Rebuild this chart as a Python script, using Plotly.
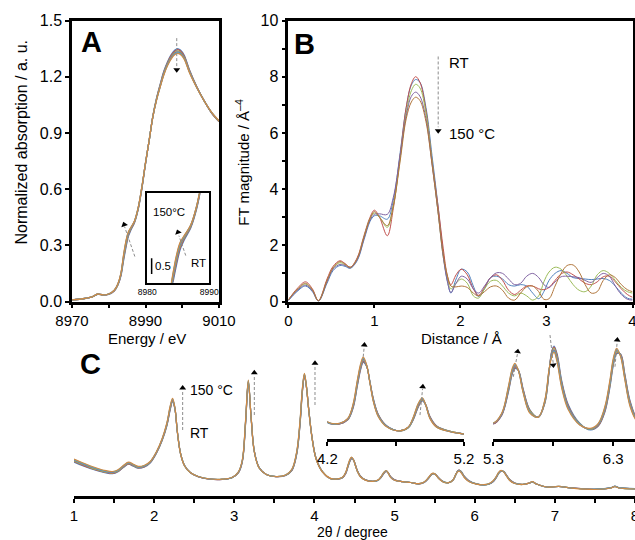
import plotly.graph_objects as go

# ---------------- panel A: Cu K-edge XANES, RT ... 150 C ----------------
energy = [8970, 8972, 8974, 8975.5, 8977, 8978.5, 8980, 8981.5, 8982.5, 8983.3,
          8984, 8984.7, 8985.3, 8986, 8987, 8988, 8989, 8990, 8991, 8992,
          8993, 8994, 8995, 8996, 8997, 8998, 8998.7, 8999.5, 9000.5, 9002,
          9004, 9006, 9008, 9010]
xanes_1 = [0.009, 0.012, 0.018, 0.025, 0.038, 0.034, 0.038, 0.056, 0.088, 0.135,
           0.215, 0.29, 0.345, 0.38, 0.42, 0.49, 0.60, 0.735, 0.86, 0.99,
           1.085, 1.16, 1.23, 1.28, 1.318, 1.342, 1.35, 1.342, 1.315, 1.235,
           1.145, 1.07, 1.005, 0.96]
xanes_2 = [0.009, 0.012, 0.018, 0.025, 0.039, 0.034, 0.039, 0.057, 0.090, 0.14,
           0.225, 0.30, 0.352, 0.385, 0.423, 0.493, 0.603, 0.737, 0.86, 0.988,
           1.082, 1.156, 1.225, 1.275, 1.312, 1.336, 1.344, 1.337, 1.31, 1.232,
           1.144, 1.07, 1.006, 0.961]
xanes_3 = [0.009, 0.012, 0.018, 0.025, 0.039, 0.035, 0.039, 0.058, 0.091, 0.143,
           0.23, 0.308, 0.358, 0.388, 0.426, 0.496, 0.606, 0.738, 0.86, 0.987,
           1.08, 1.152, 1.22, 1.27, 1.306, 1.33, 1.338, 1.331, 1.305, 1.228,
           1.142, 1.07, 1.007, 0.962]
xanes_4 = [0.009, 0.012, 0.018, 0.025, 0.040, 0.035, 0.040, 0.059, 0.093, 0.146,
           0.236, 0.315, 0.363, 0.391, 0.428, 0.498, 0.608, 0.739, 0.86, 0.986,
           1.078, 1.149, 1.216, 1.266, 1.302, 1.326, 1.333, 1.326, 1.301, 1.225,
           1.141, 1.07, 1.008, 0.963]
xanes_5 = [0.009, 0.012, 0.018, 0.025, 0.040, 0.035, 0.040, 0.060, 0.094, 0.148,
           0.24, 0.32, 0.367, 0.393, 0.429, 0.499, 0.609, 0.74, 0.86, 0.985,
           1.076, 1.147, 1.213, 1.263, 1.298, 1.322, 1.329, 1.322, 1.298, 1.222,
           1.14, 1.07, 1.009, 0.964]
xanes_6 = [0.009, 0.012, 0.018, 0.025, 0.040, 0.035, 0.040, 0.060, 0.095, 0.15,
           0.245, 0.325, 0.37, 0.395, 0.43, 0.50, 0.61, 0.74, 0.86, 0.985,
           1.075, 1.145, 1.21, 1.26, 1.295, 1.318, 1.325, 1.318, 1.295, 1.22,
           1.14, 1.07, 1.01, 0.965]

# ---------------- panel B: EXAFS Fourier transforms ----------------
distance = [0, 0.1, 0.2, 0.28, 0.35, 0.45, 0.52, 0.6, 0.66, 0.72,
            0.8, 0.88, 0.95, 1.0, 1.06, 1.15, 1.22, 1.3, 1.37, 1.43,
            1.48, 1.53, 1.6, 1.67, 1.74, 1.8, 1.85, 1.89, 1.95, 2.01,
            2.08, 2.15, 2.21, 2.28, 2.35, 2.42, 2.49, 2.56, 2.63, 2.7,
            2.77, 2.84, 2.91, 2.97, 3.03, 3.1, 3.17, 3.24, 3.31, 3.38,
            3.45, 3.52, 3.59, 3.66, 3.73, 3.8, 3.87, 3.94, 4.0]
ft_blue = [0.03, 0.35, 0.55, 0.35, 0.02, 0.65, 1.10, 1.28, 1.25, 1.18,
           1.45, 2.20, 2.85, 3.05, 3.05, 2.93, 3.60, 5.30, 6.90, 7.70,
           7.90, 7.80, 6.90, 5.20, 3.40, 1.70, 0.70, 0.30, 0.80, 1.15,
           1.05, 0.55, 0.18, 0.45, 0.85, 0.90, 0.80, 0.60, 0.55, 0.60,
           0.55, 0.30, 0.10, 0.35, 0.75, 1.00, 1.10, 1.00, 0.85, 0.82,
           0.80, 0.78, 0.80, 0.82, 0.75, 0.55, 0.30, 0.12, 0.08]
ft_red = [0.05, 0.45, 0.70, 0.45, 0.03, 0.80, 1.25, 1.45, 1.35, 1.22,
          1.55, 2.35, 3.00, 3.25, 3.00, 2.34, 3.30, 5.20, 6.90, 7.75,
          8.00, 7.80, 6.80, 5.00, 3.40, 1.90, 0.90, 0.60, 0.95, 1.15,
          0.95, 0.45, 0.22, 0.50, 0.85, 0.95, 0.75, 0.40, 0.25, 0.40,
          0.55, 0.55, 0.45, 0.42, 0.50, 0.75, 0.98, 1.05, 0.95, 0.80,
          0.65, 0.60, 0.70, 0.88, 0.90, 0.70, 0.45, 0.25, 0.15]
ft_green = [0.05, 0.40, 0.62, 0.40, 0.02, 0.72, 1.18, 1.38, 1.30, 1.20,
            1.50, 2.30, 2.95, 3.15, 3.00, 2.64, 3.40, 5.10, 6.70, 7.50,
            7.73, 7.60, 6.70, 5.00, 3.20, 1.60, 0.80, 0.45, 0.65, 0.80,
            0.65, 0.20, 0.12, 0.45, 0.72, 0.75, 0.55, 0.30, 0.20, 0.30,
            0.20, 0.05, 0.20, 0.70, 1.05, 1.22, 1.15, 0.90, 0.60, 0.40,
            0.35, 0.55, 0.95, 1.10, 1.00, 0.75, 0.50, 0.35, 0.30]
ft_purple = [0.04, 0.38, 0.58, 0.38, 0.02, 0.70, 1.15, 1.32, 1.28, 1.20,
             1.48, 2.25, 2.90, 3.10, 3.12, 3.10, 3.70, 5.20, 6.60, 7.30,
             7.45, 7.30, 6.50, 4.90, 3.20, 1.60, 0.70, 0.32, 0.65, 0.90,
             0.80, 0.45, 0.30, 0.55, 0.85, 1.02, 1.00, 0.80, 0.60, 0.65,
             0.90, 1.00, 0.85, 0.60, 0.50, 0.70, 0.88, 0.90, 0.88, 0.85,
             0.75, 0.68, 0.85, 1.00, 0.90, 0.55, 0.25, 0.08, 0.05]
ft_brown = [0.06, 0.42, 0.65, 0.42, 0.03, 0.75, 1.20, 1.42, 1.33, 1.22,
            1.52, 2.30, 2.95, 3.20, 3.00, 2.70, 3.40, 5.00, 6.50, 7.10,
            7.27, 7.15, 6.40, 4.90, 3.20, 1.70, 0.90, 0.55, 0.52, 0.55,
            0.50, 0.30, 0.20, 0.35, 0.52, 0.55, 0.40, 0.12, 0.05, 0.30,
            0.52, 0.55, 0.35, 0.08, 0.10, 0.55, 1.00, 1.28, 1.30, 1.05,
            0.60, 0.30, 0.35, 0.75, 0.95, 0.85, 0.60, 0.42, 0.35]

# ---------------- panel C: XRD patterns (arbitrary intensity) ----------------
two_theta = [1.00, 1.10, 1.20, 1.30, 1.40, 1.48, 1.55, 1.62, 1.68, 1.74,
             1.80, 1.88, 1.95, 2.03, 2.10, 2.16, 2.20, 2.23, 2.26, 2.29,
             2.33, 2.38, 2.45, 2.55, 2.70, 2.85, 2.97, 3.05, 3.10, 3.14,
             3.175, 3.21, 3.25, 3.31, 3.40, 3.52, 3.64, 3.72, 3.78, 3.82,
             3.85, 3.875, 3.90, 3.93, 3.97, 4.02, 4.10, 4.20, 4.29, 4.35,
             4.39, 4.42, 4.445, 4.463, 4.488, 4.512, 4.537, 4.573, 4.634, 4.73,
             4.793, 4.83, 4.866, 4.895, 4.92, 4.95, 5.00, 5.10, 5.20, 5.30,
             5.37, 5.425, 5.458, 5.48, 5.508, 5.55, 5.605, 5.675, 5.73, 5.764,
             5.786, 5.806, 5.833, 5.87, 5.925, 6.02, 6.11, 6.175, 6.23, 6.272,
             6.30, 6.328, 6.361, 6.397, 6.44, 6.50, 6.60, 6.68, 6.72, 6.77,
             6.90, 7.05, 7.20, 7.50, 7.70, 7.75, 7.80, 8.00]
xrd_1 = [34.0, 30.5, 27.5, 25.0, 23.0, 22.3, 24.3, 28.8, 31.8, 29.8,
         27.8, 29.0, 33.0, 43.0, 55.5, 70.5, 86.0, 94.3, 86.5, 64.0,
         42.5, 30.5, 23.5, 19.3, 16.8, 16.6, 18.2, 23.0, 34.0, 71.0,
         113.0, 79.0, 45.0, 28.5, 21.5, 19.3, 20.5, 25.5, 42.0, 71.0,
         104.0, 119.5, 109.0, 86.0, 59.0, 38.0, 24.5, 17.3, 16.9, 18.2,
         22.3, 29.4, 35.0, 37.2, 35.8, 30.8, 25.2, 20.0, 16.3, 14.6,
         15.6, 18.3, 22.5, 24.5, 23.2, 19.4, 16.2, 14.4, 13.5, 12.1,
         13.6, 17.7, 21.0, 22.0, 21.7, 18.2, 14.6, 13.3, 15.8, 21.2,
         25.0, 26.0, 24.5, 19.8, 15.5, 12.2, 11.0, 11.7, 14.2, 18.6,
         22.5, 24.6, 24.6, 20.9, 16.2, 13.0, 11.6, 12.8, 14.0, 12.0,
         9.0, 9.6, 8.1, 6.8, 8.3, 9.8, 8.3, 7.4]
xrd_2 = [34.6, 31.1, 28.1, 25.5, 23.5, 22.7, 24.7, 29.2, 32.2, 30.2,
         28.2, 29.4, 33.3, 43.3, 55.9, 71.1, 86.8, 95.0, 86.8, 64.0,
         42.4, 30.4, 23.5, 19.3, 16.8, 16.6, 18.3, 23.2, 34.4, 71.8,
         113.6, 78.8, 44.8, 28.4, 21.5, 19.3, 20.6, 25.8, 42.6, 71.8,
         104.8, 120.1, 109.2, 85.8, 58.8, 37.8, 24.4, 17.4, 16.9, 18.3,
         22.6, 29.8, 35.4, 37.5, 35.9, 30.7, 25.0, 19.9, 16.2, 14.6,
         15.7, 18.5, 22.7, 24.7, 23.2, 19.3, 16.1, 14.4, 13.5, 12.1,
         13.7, 17.9, 21.2, 22.2, 21.7, 18.1, 14.5, 13.3, 15.9, 21.3,
         24.8, 25.8, 24.2, 19.5, 15.3, 12.1, 11.1, 11.8, 14.4, 18.9,
         22.8, 24.8, 24.5, 20.7, 16.0, 12.9, 11.6, 12.8, 14.1, 12.0,
         9.0, 9.6, 8.1, 6.7, 8.2, 9.7, 8.2, 7.3]
xrd_3 = [35.2, 31.7, 28.6, 26.0, 23.9, 23.2, 25.1, 29.6, 32.6, 30.6,
         28.5, 29.7, 33.6, 43.6, 56.3, 71.7, 87.6, 95.7, 87.1, 64.0,
         42.3, 30.3, 23.5, 19.4, 16.9, 16.7, 18.3, 23.4, 34.8, 72.6,
         114.2, 78.6, 44.6, 28.3, 21.5, 19.4, 20.7, 26.1, 43.2, 72.6,
         105.6, 120.8, 109.4, 85.6, 58.6, 37.6, 24.3, 17.4, 17.0, 18.4,
         22.9, 30.2, 35.8, 37.9, 36.0, 30.6, 24.8, 19.7, 16.1, 14.6,
         15.7, 18.7, 23.0, 24.9, 23.2, 19.1, 16.0, 14.4, 13.5, 12.2,
         13.8, 18.1, 21.4, 22.4, 21.7, 17.9, 14.4, 13.3, 16.0, 21.4,
         24.6, 25.6, 23.9, 19.3, 15.1, 12.1, 11.1, 11.9, 14.6, 19.1,
         23.0, 25.0, 24.4, 20.5, 15.8, 12.8, 11.6, 12.9, 14.1, 12.0,
         9.0, 9.6, 8.0, 6.7, 8.2, 9.7, 8.2, 7.2]
xrd_4 = [35.8, 32.3, 29.2, 26.5, 24.4, 23.6, 25.5, 30.0, 33.0, 31.0,
         28.9, 30.1, 33.9, 43.9, 56.7, 72.3, 88.4, 96.3, 87.4, 64.0,
         42.2, 30.2, 23.5, 19.4, 16.9, 16.7, 18.4, 23.6, 35.2, 73.4,
         114.8, 78.4, 44.4, 28.2, 21.5, 19.4, 20.8, 26.4, 43.8, 73.4,
         106.4, 121.4, 109.6, 85.4, 58.4, 37.4, 24.2, 17.5, 17.0, 18.5,
         23.1, 30.6, 36.1, 38.2, 36.1, 30.5, 24.6, 19.55, 16.1, 14.6,
         15.8, 18.9, 23.2, 25.1, 23.1, 19.0, 15.9, 14.3, 13.5, 12.2,
         13.8, 18.3, 21.6, 22.5, 21.7, 17.8, 14.2, 13.3, 16.2, 21.5,
         24.4, 25.3, 23.6, 19.0, 15.0, 12.0, 11.2, 12.0, 14.8, 19.4,
         23.3, 25.2, 24.3, 20.3, 15.6, 12.7, 11.5, 12.9, 14.2, 12.0,
         9.0, 9.5, 8.0, 6.6, 8.1, 9.6, 8.1, 7.2]
xrd_5 = [36.4, 32.9, 29.7, 27.0, 24.8, 24.1, 25.9, 30.4, 33.4, 31.4,
         29.2, 30.4, 34.2, 44.2, 57.1, 72.9, 89.2, 97.0, 87.7, 64.0,
         42.1, 30.1, 23.5, 19.5, 17.0, 16.8, 18.4, 23.8, 35.6, 74.2,
         115.4, 78.2, 44.2, 28.1, 21.5, 19.5, 20.9, 26.7, 44.4, 74.2,
         107.2, 122.1, 109.8, 85.2, 58.2, 37.2, 24.1, 17.5, 17.1, 18.6,
         23.4, 31.0, 36.5, 38.6, 36.2, 30.4, 24.4, 19.4, 16.0, 14.6,
         15.8, 19.1, 23.5, 25.3, 23.1, 18.8, 15.8, 14.3, 13.5, 12.3,
         13.9, 18.5, 21.8, 22.7, 21.7, 17.7, 14.1, 13.3, 16.3, 21.6,
         24.2, 25.1, 23.3, 18.8, 14.8, 12.0, 11.2, 12.1, 15.0, 19.6,
         23.5, 25.4, 24.2, 20.1, 15.4, 12.6, 11.5, 13.0, 14.2, 12.0,
         9.0, 9.5, 8.0, 6.6, 8.1, 9.6, 8.1, 7.1]
xrd_6 = [37.0, 33.5, 30.3, 27.5, 25.3, 24.5, 26.3, 30.8, 33.8, 31.8,
         29.6, 30.8, 34.5, 44.5, 57.5, 73.5, 90.0, 97.7, 88.0, 64.0,
         42.0, 30.0, 23.5, 19.5, 17.0, 16.8, 18.5, 24.0, 36.0, 75.0,
         116.0, 78.0, 44.0, 28.0, 21.5, 19.5, 21.0, 27.0, 45.0, 75.0,
         108.0, 122.7, 110.0, 85.0, 58.0, 37.0, 24.0, 17.6, 17.1, 18.7,
         23.7, 31.4, 36.9, 38.9, 36.3, 30.3, 24.2, 19.25, 15.9, 14.6,
         15.9, 19.25, 23.7, 25.5, 23.1, 18.7, 15.75, 14.3, 13.5, 12.3,
         14.0, 18.7, 22.0, 22.9, 21.7, 17.55, 14.0, 13.3, 16.4, 21.7,
         24.0, 24.9, 23.0, 18.5, 14.6, 11.9, 11.3, 12.2, 15.2, 19.9,
         23.8, 25.6, 24.1, 19.9, 15.2, 12.5, 11.5, 13.0, 14.3, 12.0,
         9.0, 9.5, 8.0, 6.5, 8.0, 9.5, 8.0, 7.0]

# excel-like series colours (RT first, 150 C last)
colors = ['#4F81BD', '#C0504D', '#9BBB59', '#8064A2', '#4BACC6', '#D08A45']
ft_colors = ['#4F81BD', '#C0504D', '#9BBB59', '#8064A2', '#B0763C']

xanes = [xanes_1, xanes_2, xanes_3, xanes_4, xanes_5, xanes_6]
ft = [ft_blue, ft_red, ft_green, ft_purple, ft_brown]
xrd = [xrd_1, xrd_2, xrd_3, xrd_4, xrd_5, xrd_6]

W, H = 635, 540
font = 'Arial, Liberation Sans, sans-serif'

# layout positions are given in window pixels
def px(x):
    return x / W

def py(y):
    return 1 - y / H

fig = go.Figure()

# XANES main panel + zoomed inset
for ys, c in zip(xanes, colors):
    fig.add_trace(go.Scatter(x=energy, y=ys, mode='lines', xaxis='x', yaxis='y',
                             line=dict(color=c, width=1.3, shape='spline')))
    fig.add_trace(go.Scatter(x=energy, y=ys, mode='lines', xaxis='x3', yaxis='y3',
                             line=dict(color=c, width=1.3, shape='spline')))

# FT panel
for ys, c in zip(ft, ft_colors):
    fig.add_trace(go.Scatter(x=distance, y=ys, mode='lines', xaxis='x2', yaxis='y2',
                             line=dict(color=c, width=1, shape='spline')))

# XRD main pattern + two zoomed insets
for ys, c in zip(xrd, colors):
    for xa, ya in [('x4', 'y4'), ('x5', 'y5'), ('x6', 'y6')]:
        fig.add_trace(go.Scatter(x=two_theta, y=ys, mode='lines', xaxis=xa, yaxis=ya,
                                 line=dict(color=c, width=1.2, shape='spline')))

frame = dict(showline=True, linecolor='black', linewidth=2.5, mirror=True,
             ticks='outside', ticklen=4, tickwidth=1.5, tickcolor='black',
             showgrid=False, zeroline=False, automargin=False, ticklabeloverflow='allow',
             tickfont=dict(family=font, size=15, color='black'))
minor = dict(ticks='outside', ticklen=4, tickwidth=1.5, tickcolor='black', showgrid=False)
bare = dict(showline=True, linecolor='black', linewidth=2.5, mirror=False,
            ticks='outside', ticklen=4, tickwidth=1.5, tickcolor='black',
            showgrid=False, zeroline=False, automargin=False, ticklabeloverflow='allow',
            tickfont=dict(family=font, size=15, color='black'))
yfont = dict(family=font, size=16, color='black')

fig.update_layout(
    width=W, height=H,
    margin=dict(l=0, r=0, t=0, b=0, autoexpand=False),
    paper_bgcolor='white', plot_bgcolor='rgba(0,0,0,0)',
    showlegend=False,
    font=dict(family=font, color='black'),
    # A
    xaxis=dict(frame, domain=[px(72), px(219)], range=[8970, 9010], anchor='y',
               tick0=8970, dtick=20, minor=dict(minor, dtick=10)),
    yaxis=dict(frame, domain=[py(301.5), py(20.5)], range=[0, 1.5], anchor='x',
               dtick=0.3, tickformat='.1f', tickfont=yfont),
    # B (right frame line sits half a line width outside the domain)
    xaxis2=dict(frame, domain=[px(288.3), px(632.5)], range=[0, 4], anchor='y2', dtick=1),
    yaxis2=dict(frame, domain=[py(301.5), py(20.5)], range=[0, 10], anchor='x2',
                dtick=2, minor=dict(minor, dtick=1), tickfont=yfont),
    # A inset
    xaxis3=dict(showline=True, linecolor='black', linewidth=1.5, mirror=True, ticks='',
                showgrid=False, zeroline=False, automargin=False,
                domain=[px(147.3), px(209.3)],
                range=[8980, 8990], anchor='y3', tickvals=[8980, 8990],
                tickfont=dict(family=font, size=8.5, color='black')),
    yaxis3=dict(showline=True, linecolor='black', linewidth=1.5, mirror=True, ticks='',
                showgrid=False, zeroline=False, showticklabels=False, automargin=False,
                domain=[py(282.7), py(193.3)], range=[0.23, 0.54], anchor='x3'),
    # C
    xaxis4=dict(bare, domain=[px(74), 1], range=[1, 8], anchor='y4', dtick=1,
                minor=dict(minor, dtick=0.5)),
    yaxis4=dict(visible=False, domain=[py(496), py(340)], range=[0, 156], anchor='x4'),
    xaxis5=dict(bare, domain=[px(327.3), px(464)], range=[4.2, 5.2], anchor='y5',
                tickvals=[4.2, 5.2], minor=dict(minor, tickvals=[4.7])),
    yaxis5=dict(visible=False, domain=[py(439.3), py(330)], range=[11.8, 47.86], anchor='x5'),
    xaxis6=dict(bare, domain=[px(493.3), 1], range=[5.3, 6.481], anchor='y6',
                tickvals=[5.3, 6.3], minor=dict(minor, tickvals=[5.8])),
    yaxis6=dict(visible=False, domain=[py(439.3), py(330)], range=[9.34, 28.86], anchor='x6'),
)

# dashed guide lines
dash = dict(color='#8c8c8c', width=1, dash='3px,2px')
guides = [
    ('x', 'y', 8998.5, 1.406, 8998.5, 1.245),
    ('x', 'y', 8987.1, 0.24, 8984.3, 0.40),
    ('x3', 'y3', 8986.2, 0.324, 8985.1, 0.393),
    ('x2', 'y2', 1.742, 8.72, 1.742, 6.2),
    ('x4', 'y4', 2.356, 66, 2.356, 106),
    ('x4', 'y4', 3.25, 81, 3.25, 121),
    ('x4', 'y4', 4.007, 91, 4.007, 130.5),
    ('x5', 'y5', 4.459, 37.4, 4.47, 42.3),
    ('x5', 'y5', 4.878, 19.8, 4.897, 28.5),
    ('x6', 'y6', 5.467, 20.5, 5.501, 24.6),
    ('x6', 'y6', 5.7725, 27.96, 5.799, 23.0),
    ('x6', 'y6', 6.314, 22.3, 6.332, 26.6),
]
for xr, yr, x0, y0, x1, y1 in guides:
    fig.add_shape(type='line', xref=xr, yref=yr, x0=x0, y0=y0, x1=x1, y1=y1, line=dash)

# small black arrowheads at the tips of the guides (angle: 0 = up, clockwise)
heads = [
    ('x', 'y', 8998.5, 1.237, 180),
    ('x', 'y', 8984.2, 0.41, -18),
    ('x3', 'y3', 8984.95, 0.405, -18),
    ('x2', 'y2', 1.742, 6.08, 180),
    ('x4', 'y4', 2.356, 108, 0),
    ('x4', 'y4', 3.25, 123.3, 0),
    ('x4', 'y4', 4.007, 132.7, 0),
    ('x5', 'y5', 4.471, 42.9, 5),
    ('x5', 'y5', 4.898, 29.15, 5),
    ('x6', 'y6', 5.503, 25.0, 8),
    ('x6', 'y6', 5.8, 22.6, 174),
    ('x6', 'y6', 6.333, 27.07, 5),
]
for xr, yr, x, y, ang in heads:
    fig.add_trace(go.Scatter(x=[x], y=[y], xaxis=xr, yaxis=yr, mode='markers',
                             marker=dict(symbol='triangle-up', size=6, angle=ang,
                                         color='black', line=dict(width=0)),
                             cliponaxis=False, hoverinfo='skip'))

# inset scale bar
fig.add_shape(type='line', xref='x3', yref='y3', x0=8980.7, y0=0.26, x1=8980.7, y1=0.315,
              line=dict(color='black', width=1.5))

def label(xr, yr, x, y, text, size=15, anchor='left', bold=False):
    fig.add_annotation(xref=xr, yref=yr, x=x, y=y, text='<b>%s</b>' % text if bold else text,
                       showarrow=False, xanchor=anchor, yanchor='middle',
                       font=dict(family=font, size=size, color='black'))

label('x', 'y', 8975.2, 1.384, 'A', size=29, anchor='center', bold=True)
label('x2', 'y2', 0.193, 9.18, 'B', size=29, anchor='center', bold=True)
label('x4', 'y4', 1.2, 132, 'C', size=29, anchor='center', bold=True)
label('x3', 'y3', 8983.5, 0.475, '150°C', size=11.5, anchor='center')
label('x3', 'y3', 8988.2, 0.30, 'RT', size=11.5, anchor='center')
label('x3', 'y3', 8982.5, 0.287, '0.5', size=11.5, anchor='center')
label('x2', 'y2', 1.85, 8.51, 'RT')
label('x2', 'y2', 1.85, 5.97, '150 °C')
label('x4', 'y4', 2.419, 106, '150 °C', size=14)
label('x4', 'y4', 2.419, 63, 'RT', size=14)

# axis titles
def title(x, y, text, size=15, angle=0):
    fig.add_annotation(xref='paper', yref='paper', x=px(x), y=py(y), text=text,
                       textangle=angle, showarrow=False, xanchor='center', yanchor='middle',
                       font=dict(family=font, size=size, color='black'))

title(147, 338, 'Energy / eV')
title(461, 338, 'Distance / Å')
title(352, 532, '2θ / degree', size=14)
title(21, 142.5, 'Normalized absorption / a. u.', size=16, angle=-90)
title(241.7, 162, 'FT magnitude / Å<sup>–4</sup>', angle=-90)

# drop the browser's default page margin and scrollbars so the figure fills the window
fig.write_html("out.html", config={'displayModeBar': False},
               post_script="document.body.style.margin = '0';"
                           "document.documentElement.style.overflow = 'hidden';"
                           "document.body.style.overflow = 'hidden';")
